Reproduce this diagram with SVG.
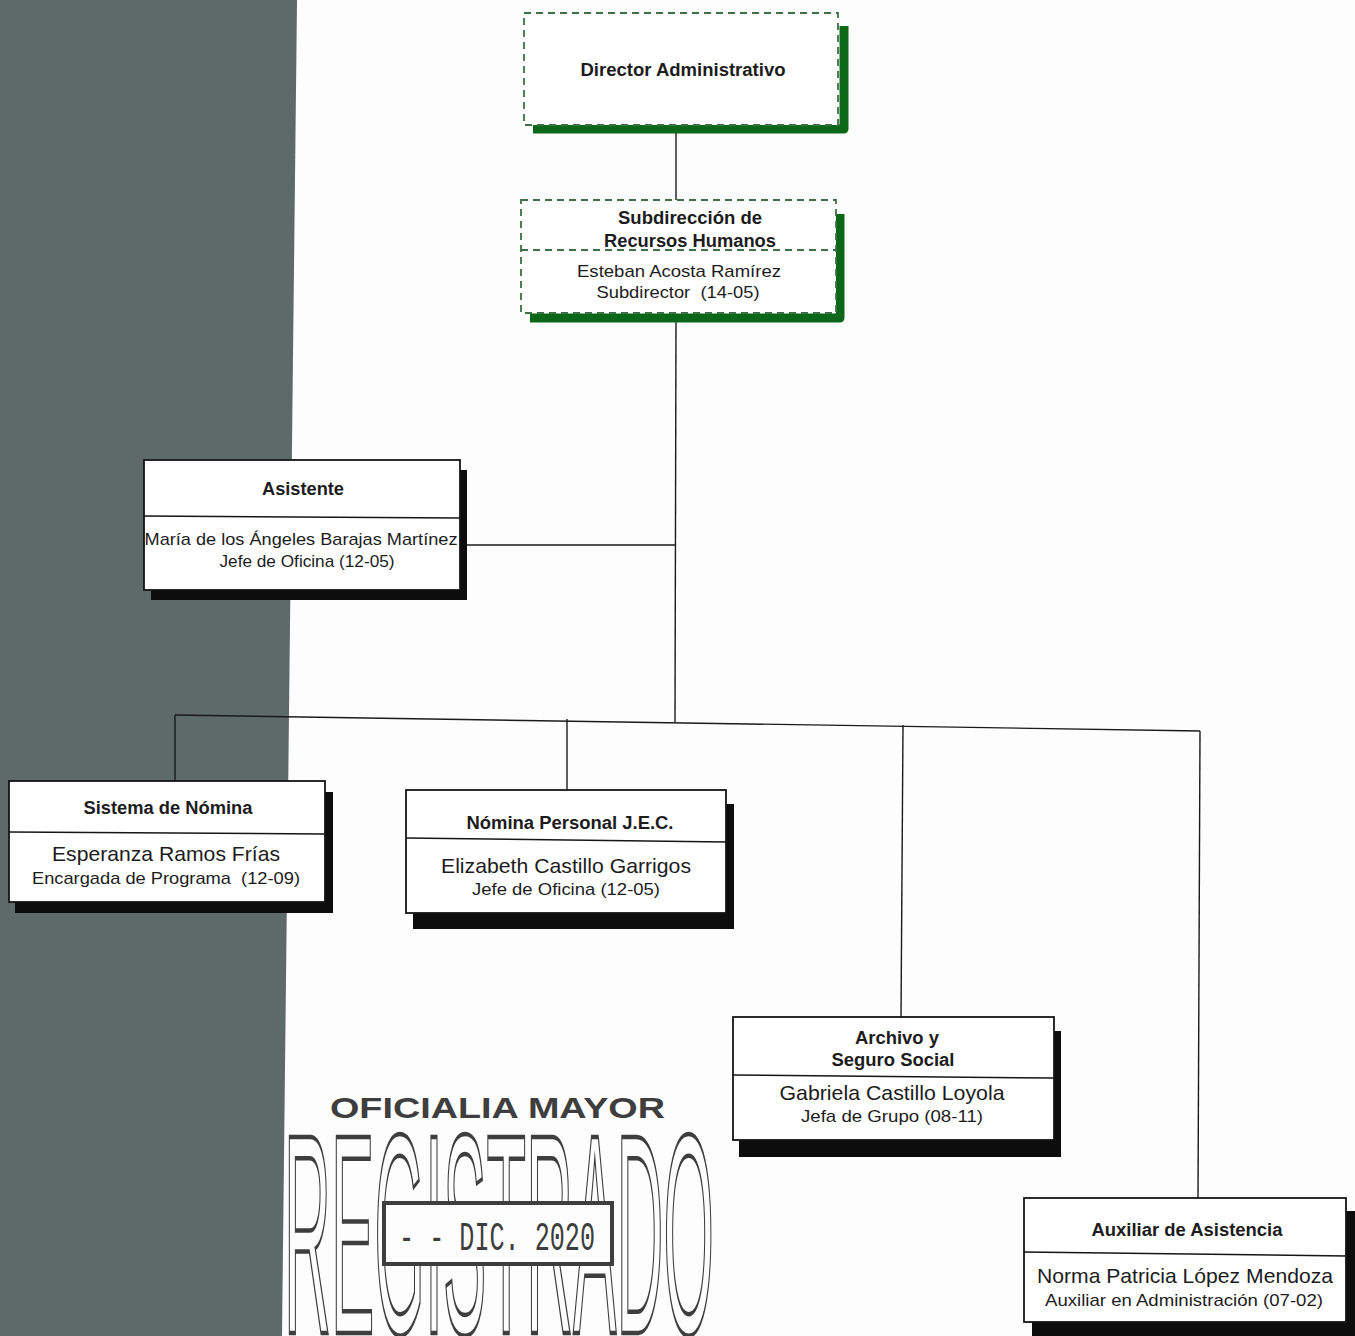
<svg xmlns="http://www.w3.org/2000/svg" width="1355" height="1336" viewBox="0 0 1355 1336">
<style>
.box{fill:#ffffff;stroke:#151515;stroke-width:1.8}
.shd{fill:#0d0d0d}
.div{stroke:#151515;stroke-width:1.5}
.gbox{fill:#ffffff;stroke:#3f6f45;stroke-width:1.8;stroke-dasharray:7 5}
.gdiv{stroke:#3f6f45;stroke-width:1.8;stroke-dasharray:7 5}
.gshd{fill:none;stroke:#0c6818;stroke-width:9;stroke-linejoin:round}
.t{font-family:"Liberation Sans",Arial,sans-serif;fill:#1c1c1c;text-anchor:middle}
.b{font-weight:bold;font-size:18px}
.n{font-size:21px}
.s{font-size:17px}
.c{fill:none;stroke:#1a1a1a;stroke-width:1.4}
.stamp{fill:#3e3e3e}
</style>
<rect width="1355" height="1336" fill="#fdfdfd"/>
<polygon points="0,0 297,0 282,1336 0,1336" fill="#5e696a"/>

<g id="stamp">
  <text class="stamp" x="330" y="1118" font-family="Liberation Sans,Arial,sans-serif" font-size="30" font-weight="bold" textLength="335" lengthAdjust="spacingAndGlyphs">OFICIALIA MAYOR</text>
  <text x="284" y="1333" font-family="Liberation Sans,Arial,sans-serif" font-size="285" textLength="430" lengthAdjust="spacingAndGlyphs" fill="none" stroke="#3e3e3e" stroke-width="4.5">REGISTRADO</text>
  <rect x="384" y="1203" width="228" height="61" fill="#fdfdfd" stroke="#3e3e3e" stroke-width="4"/>
  <text class="stamp" x="399" y="1250" font-family="Liberation Mono,monospace" font-size="40" textLength="196" lengthAdjust="spacingAndGlyphs">- - DIC. 2020</text>
</g>

<g id="connectors">
  <line class="c" x1="676" y1="130" x2="676" y2="200"/>
  <line class="c" x1="676" y1="322" x2="675" y2="722"/>
  <line class="c" x1="460" y1="545" x2="676" y2="545"/>
  <line class="c" x1="175" y1="715" x2="1200" y2="731"/>
  <line class="c" x1="175" y1="715" x2="175" y2="781"/>
  <line class="c" x1="567" y1="719" x2="567" y2="791"/>
  <line class="c" x1="903" y1="725" x2="901" y2="1018"/>
  <line class="c" x1="1200" y1="731" x2="1198" y2="1198"/>
</g>

<g id="n-director">
  <polyline class="gshd" points="533,129 844,129 844,26"/>
  <rect class="gbox" x="524" y="13" width="314" height="112"/>
  <text class="t b" x="683" y="76" textLength="205" lengthAdjust="spacingAndGlyphs">Director Administrativo</text>
</g>

<g id="n-subdireccion">
  <polyline class="gshd" points="530,318 840,318 840,214"/>
  <rect class="gbox" x="521" y="200" width="315" height="113"/>
  <line class="gdiv" x1="521" y1="250" x2="836" y2="250"/>
  <text class="t b" x="690" y="224" textLength="144" lengthAdjust="spacingAndGlyphs">Subdirección de</text>
  <text class="t b" x="690" y="247" textLength="172" lengthAdjust="spacingAndGlyphs">Recursos Humanos</text>
  <text class="t s" x="679" y="277" textLength="204" lengthAdjust="spacingAndGlyphs">Esteban Acosta Ramírez</text>
  <text class="t s" x="678" y="298" textLength="163" lengthAdjust="spacingAndGlyphs">Subdirector&#160; (14-05)</text>
</g>

<g id="n-asistente">
  <rect class="shd" x="151" y="470" width="316" height="130"/>
  <rect class="box" x="144" y="460" width="316" height="130"/>
  <line class="div" x1="144" y1="516" x2="460" y2="518"/>
  <text class="t b" x="303" y="495" textLength="82" lengthAdjust="spacingAndGlyphs">Asistente</text>
  <text class="t s" x="301" y="545" textLength="313" lengthAdjust="spacingAndGlyphs">María de los Ángeles Barajas Martínez</text>
  <text class="t s" x="307" y="567" textLength="175" lengthAdjust="spacingAndGlyphs">Jefe de Oficina (12-05)</text>
</g>

<g id="n-sistema">
  <rect class="shd" x="15" y="792" width="318" height="121"/>
  <rect class="box" x="9" y="781" width="316" height="121"/>
  <line class="div" x1="9" y1="832" x2="325" y2="834"/>
  <text class="t b" x="168" y="814" textLength="169" lengthAdjust="spacingAndGlyphs">Sistema de Nómina</text>
  <text class="t n" x="166" y="861" textLength="228" lengthAdjust="spacingAndGlyphs">Esperanza Ramos Frías</text>
  <text class="t s" x="166" y="884" textLength="268" lengthAdjust="spacingAndGlyphs">Encargada de Programa&#160; (12-09)</text>
</g>

<g id="n-nomina">
  <rect class="shd" x="413" y="804" width="321" height="125"/>
  <rect class="box" x="406" y="790" width="320" height="123"/>
  <line class="div" x1="406" y1="838" x2="726" y2="842"/>
  <text class="t b" x="570" y="829" textLength="207" lengthAdjust="spacingAndGlyphs">Nómina Personal J.E.C.</text>
  <text class="t n" x="566" y="873" textLength="250" lengthAdjust="spacingAndGlyphs">Elizabeth Castillo Garrigos</text>
  <text class="t s" x="566" y="895" textLength="188" lengthAdjust="spacingAndGlyphs">Jefe de Oficina (12-05)</text>
</g>

<g id="n-archivo">
  <rect class="shd" x="739" y="1031" width="322" height="126"/>
  <rect class="box" x="733" y="1017" width="321" height="123"/>
  <line class="div" x1="733" y1="1075" x2="1054" y2="1078"/>
  <text class="t b" x="897" y="1044" textLength="84" lengthAdjust="spacingAndGlyphs">Archivo y</text>
  <text class="t b" x="893" y="1066" textLength="123" lengthAdjust="spacingAndGlyphs">Seguro Social</text>
  <text class="t n" x="892" y="1100" textLength="225" lengthAdjust="spacingAndGlyphs">Gabriela Castillo Loyola</text>
  <text class="t s" x="892" y="1122" textLength="182" lengthAdjust="spacingAndGlyphs">Jefa de Grupo (08-11)</text>
</g>

<g id="n-auxiliar">
  <rect class="shd" x="1032" y="1211" width="323" height="125"/>
  <rect class="box" x="1024" y="1198" width="322" height="124"/>
  <line class="div" x1="1024" y1="1252" x2="1346" y2="1256"/>
  <text class="t b" x="1187" y="1236" textLength="191" lengthAdjust="spacingAndGlyphs">Auxiliar de Asistencia</text>
  <text class="t n" x="1185" y="1283" textLength="296" lengthAdjust="spacingAndGlyphs">Norma Patricia López Mendoza</text>
  <text class="t s" x="1184" y="1306" textLength="278" lengthAdjust="spacingAndGlyphs">Auxiliar en Administración (07-02)</text>
</g>
</svg>
